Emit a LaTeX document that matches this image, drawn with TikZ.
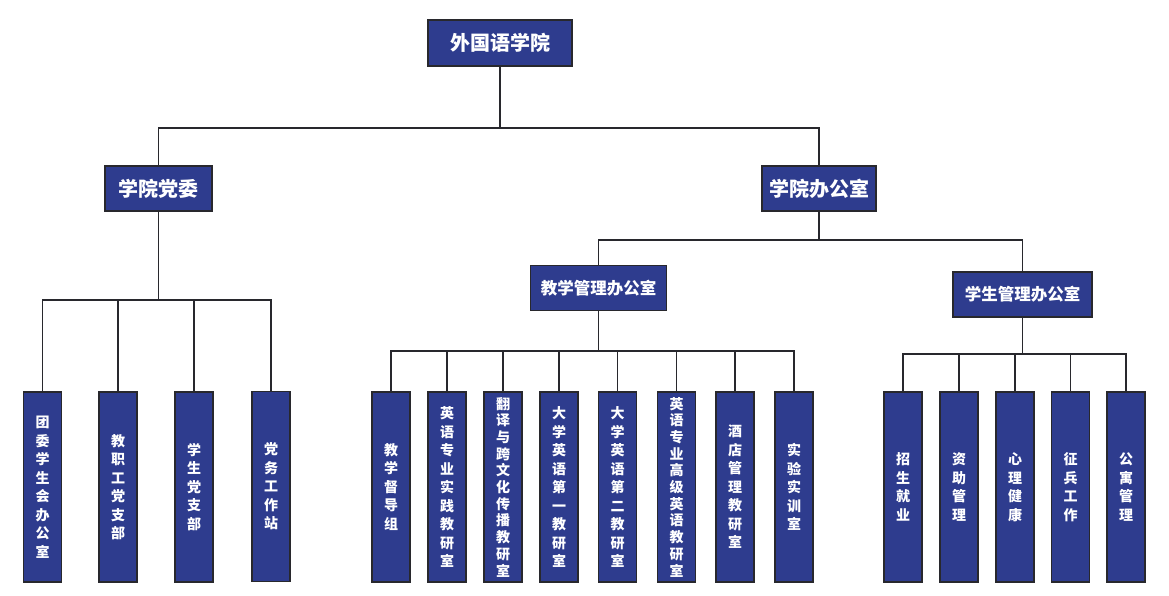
\documentclass[tikz,border=0pt]{standalone}
\usepackage{fontspec}
\newfontfamily\cjk{Noto Sans CJK SC}
\definecolor{boxblue}{RGB}{46,60,142}
\definecolor{edgegray}{RGB}{40,40,45}
\begin{document}
\begin{tikzpicture}[x=1pt,y=-1pt,
  base/.style={draw=edgegray, line width=1.8pt, fill=boxblue, text=white, inner sep=0pt, align=center},
  topbox/.style={base, font=\cjk\bfseries\fontsize{20}{24}\selectfont},
  midbox/.style={base, font=\cjk\bfseries\fontsize{16.5}{20}\selectfont},
  vbox/.style={base, minimum width=38, minimum height=190, font=\cjk\bfseries\fontsize{14}{18.5}\selectfont},
  tight/.style={font=\cjk\bfseries\fontsize{14}{16.7}\selectfont},
  conn/.style={draw=edgegray, line width=1.6pt}
]
\useasboundingbox[fill=white] (0,0) rectangle (1169,596);

% top levels
\node[topbox, minimum width=144, minimum height=46] (root) at (500,43) {外国语学院};
\node[topbox, minimum width=107, minimum height=45] (dw) at (158.5,188.5) {学院党委};
\node[topbox, minimum width=114, minimum height=45] (bgs) at (819,188.5) {学院办公室};
\node[midbox, minimum width=136, minimum height=45] (jx) at (598.5,288) {教学管理办公室};
\node[midbox, minimum width=139, minimum height=45] (xs) at (1022.5,294.5) {学生管理办公室};

% left children
\node[vbox] (a1) at (42.5,487) {团\\委\\学\\生\\会\\办\\公\\室};
\node[vbox] (a2) at (118,487) {教\\职\\工\\党\\支\\部};
\node[vbox] (a3) at (194,487) {学\\生\\党\\支\\部};
\node[vbox] (a4) at (271,486.5) {党\\务\\工\\作\\站};

% middle children
\node[vbox] (b1) at (391,487) {教\\学\\督\\导\\组};
\node[vbox] (b2) at (447,487) {英\\语\\专\\业\\实\\践\\教\\研\\室};
\node[vbox, tight] (b3) at (503,487) {翻\\译\\与\\跨\\文\\化\\传\\播\\教\\研\\室};
\node[vbox] (b4) at (559,487) {大\\学\\英\\语\\第\\一\\教\\研\\室};
\node[vbox] (b5) at (617.5,487) {大\\学\\英\\语\\第\\二\\教\\研\\室};
\node[vbox, tight] (b6) at (676.5,487) {英\\语\\专\\业\\高\\级\\英\\语\\教\\研\\室};
\node[vbox] (b7) at (735,487) {酒\\店\\管\\理\\教\\研\\室};
\node[vbox] (b8) at (794,487) {实\\验\\实\\训\\室};

% right children
\node[vbox] (c1) at (903,487) {招\\生\\就\\业};
\node[vbox] (c2) at (959,487) {资\\助\\管\\理};
\node[vbox] (c3) at (1015,487) {心\\理\\健\\康};
\node[vbox] (c4) at (1070.5,487) {征\\兵\\工\\作};
\node[vbox] (c5) at (1126,487) {公\\寓\\管\\理};

% bus levels
\coordinate (busR) at (0,128);
\coordinate (busL) at (0,300);
\coordinate (busO) at (0,240);
\coordinate (busJ) at (0,351);
\coordinate (busX) at (0,354);

\foreach \c in {dw,bgs} \draw[conn] (root.south) -- (root.south |- busR) -| (\c.north);
\foreach \c in {a1,a2,a3,a4} \draw[conn] (dw.south) -- (dw.south |- busL) -| (\c.north);
\foreach \c in {jx,xs} \draw[conn] (bgs.south) -- (bgs.south |- busO) -| (\c.north);
\foreach \c in {b1,b2,b3,b4,b5,b6,b7,b8} \draw[conn] (jx.south) -- (jx.south |- busJ) -| (\c.north);
\foreach \c in {c1,c2,c3,c4,c5} \draw[conn] (xs.south) -- (xs.south |- busX) -| (\c.north);
\end{tikzpicture}
\end{document}
